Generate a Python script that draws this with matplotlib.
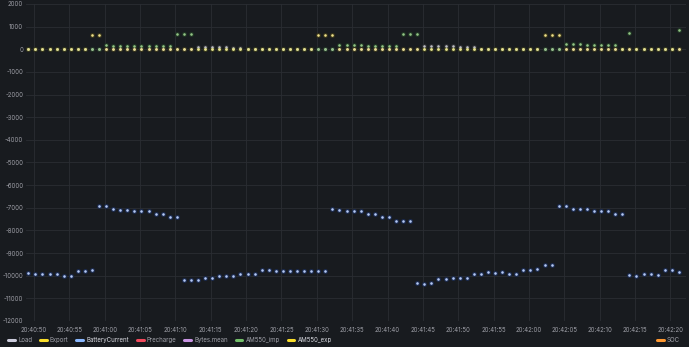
import matplotlib
matplotlib.use('Agg')
import matplotlib.pyplot as plt
import matplotlib.dates as mdates
from matplotlib.lines import Line2D
import numpy as np
import pandas as pd

plt.rcParams['font.family'] = ['Inter', 'DejaVu Sans']
plt.rcParams['axes.unicode_minus'] = False

# one sample per second
times = pd.date_range('2024-01-01 20:40:49.2', periods=93, freq='1s')

battery_current = [
    -9880, -9910, -9910, -9940, -9940, -10000, -10000, -9780, -9790, -9760,
    -6930, -6930, -7040, -7080, -7080, -7150, -7150, -7150, -7270, -7270,
    -7420, -7420, -10200, -10170, -10180, -10090, -10090, -10010, -10010, -10010,
    -9940, -9940, -9940, -9750, -9760, -9800, -9800, -9780, -9780, -9790,
    -9800, -9780, -9800, -7050, -7080, -7150, -7150, -7150, -7270, -7270,
    -7420, -7420, -7570, -7570, -7570, -10340, -10360, -10340, -10160, -10160,
    -10090, -10090, -10090, -9940, -9940, -9850, -9860, -9850, -9910, -9910,
    -9750, -9760, -9720, -9540, -9540, -6900, -6900, -7050, -7050, -7050,
    -7150, -7150, -7140, -7270, -7270, -9980, -10000, -9920, -9940, -9950,
    -9760, -9760, -9820,
]

am550_exp = [
    0, 0, 0, 0, 0, 0, 0, 0, 0, 630,
    640, 0, 0, 0, 0, 0, 0, 0, 0, 0,
    0, 0, 0, 0, 0, 0, 0, 0, 0, 0,
    0, 0, 0, 0, 0, 0, 0, 0, 0, 0,
    0, 650, 650, 640, 0, 0, 0, 0, 0, 0,
    0, 0, 0, 0, 0, 0, 0, 0, 0, 0,
    0, 0, 0, 0, 0, 0, 0, 0, 0, 0,
    0, 0, 0, 620, 610, 620, 0, 0, 0, 0,
    0, 0, 0, 0, 0, 0, 0, 0, 0, 0,
    0, 0, 0,
]

am550_imp = [
    0, 0, 0, 0, 0, 0, 0, 0, 0, 0,
    0, 190, 150, 150, 150, 150, 140, 150, 140, 150,
    140, 680, 680, 690, 0, 0, 0, 0, 0, 0,
    0, 0, 0, 0, 0, 0, 0, 0, 0, 0,
    0, 0, 0, 0, 190, 180, 170, 170, 160, 160,
    160, 150, 150, 690, 690, 690, 0, 0, 0, 0,
    0, 0, 0, 0, 0, 0, 0, 0, 0, 0,
    0, 0, 0, 0, 0, 0, 220, 220, 220, 210,
    210, 210, 200, 200, 0, 720, 0, 0, 0, 0,
    0, 0, 840,
]

load = [
    0, 0, 0, 0, 0, 0, 0, 0, 0, 0,
    0, 0, 0, 0, 0, 0, 0, 0, 0, 0,
    0, 0, 0, 0, 90, 80, 80, 80, 80, 70,
    70, 0, 0, 0, 0, 0, 0, 0, 0, 0,
    0, 0, 0, 0, 0, 0, 0, 0, 0, 0,
    0, 0, 0, 0, 0, 0, 140, 140, 130, 130,
    130, 120, 120, 120, 0, 0, 0, 0, 0, 0,
    0, 0, 0, 0, 0, 0, 0, 0, 0, 0,
    0, 0, 0, 0, 0, 0, 0, 0, 0, 0,
    0, 0, 0,
]

legend_names = ['Load', 'Export', 'BatteryCurrent', 'Precharge', 'Bytes.mean',
                'AM550_imp', 'AM550_exp']
legend_colors = ['#ccccdc', '#fade2a', '#8ab8ff', '#f2495c', '#ca95e5',
                 '#73bf69', '#fade2a']

BG = '#181b1f'
TXT = '#9fa0a8'

fig = plt.figure(figsize=(6.89, 3.47), dpi=100, facecolor=BG)
ax = fig.add_axes([0.0377, 0.075, 0.9579, 0.9135], facecolor=BG)


def dots(y, core, halo):
    ax.scatter(times, y, s=13, color=halo, linewidths=0, zorder=3)
    ax.scatter(times, y, s=3.5, color=core, linewidths=0, zorder=4)


dots(load, '#bdbdc4', '#2a2c30')
dots(am550_imp, '#93c485', '#1f3323')
dots(am550_exp, '#eee08a', '#36331a')
dots(battery_current, '#b4c9f5', '#1b2a4d')

ax.set_ylim(-12000, 2000)
ax.set_yticks(np.arange(-12000, 2001, 1000))
ax.set_xlim(pd.Timestamp('2024-01-01 20:40:48.87'), pd.Timestamp('2024-01-01 20:42:22.2'))
ax.xaxis.set_major_locator(mdates.SecondLocator(bysecond=range(0, 60, 5)))
ax.xaxis.set_major_formatter(mdates.DateFormatter('%H:%M:%S'))

ax.grid(True, color='#2a2d33', linewidth=0.6)
ax.set_axisbelow(True)
for s in ax.spines.values():
    s.set_visible(False)
ax.tick_params(length=0, labelsize=4.4, colors=TXT)
ax.tick_params(axis='y', pad=2)
ax.tick_params(axis='x', pad=4)

handles = [Line2D([], [], color=c, lw=2.2, solid_capstyle='round') for c in legend_colors]
leg = fig.legend(handles, legend_names, loc='lower left', bbox_to_anchor=(0.004, -0.005),
                 ncol=7, frameon=False, fontsize=4.4, handlelength=1.1,
                 handletextpad=0.5, columnspacing=1.3, labelcolor=TXT)
for t in leg.get_texts():
    if t.get_text() in ('BatteryCurrent', 'AM550_exp'):
        t.set_color('#d8d9e0')

soc = fig.legend([Line2D([], [], color='#ff9830', lw=2.2, solid_capstyle='round')], ['SOC'],
                 loc='lower right', bbox_to_anchor=(0.995, -0.005), frameon=False,
                 fontsize=4.4, handlelength=1.1, handletextpad=0.5, labelcolor=TXT)

fig.savefig('out.png', dpi=100, facecolor=BG)
